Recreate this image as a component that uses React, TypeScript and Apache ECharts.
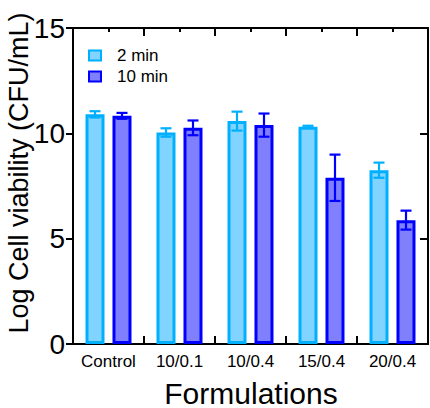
import React, { useEffect, useRef } from "react";
import * as echarts from "echarts";

const categories = ["Control", "10/0.1", "10/0.4", "15/0.4", "20/0.4"];
const seriesNames = ["2 min", "10 min"];
const mean2 = [10.9, 10.04, 10.58, 10.31, 8.25];
const sd2 = [0.15, 0.2, 0.45, 0.05, 0.36];
const mean10 = [10.83, 10.26, 10.39, 7.89, 5.88];
const sd10 = [0.14, 0.35, 0.55, 1.1, 0.45];
const yTicks = [0, 5, 10, 15];

const FONT = "Liberation Sans, Arial, Helvetica, sans-serif";
const C2_FILL = "#80D4FF";
const C2_LINE = "#00B0FF";
const C10_FILL = "#8080FF";
const C10_LINE = "#0000FF";

function errorSeries(name: string, means: number[], sds: number[], offsetFrac: number, color: string) {
  return {
    type: "custom",
    name,
    xAxisIndex: 0,
    yAxisIndex: 0,
    z: 5,
    encode: { x: 0, y: 1 },
    data: means.map((m, i) => [i, m, sds[i]]),
    renderItem: (params: any, api: any) => {
      const idx = api.value(0);
      const m = api.value(1);
      const s = api.value(2);
      const band = api.size([1, 0])[0];
      const c = api.coord([idx, m]);
      const x = c[0] + offsetFrac * band;
      const yt = api.coord([idx, m + s])[1];
      const yb = api.coord([idx, m - s])[1];
      const hw = 5.5;
      const st = { stroke: color, lineWidth: 2.2, fill: null };
      return {
        type: "group",
        children: [
          { type: "line", shape: { x1: x, y1: yt, x2: x, y2: yb }, style: st },
          { type: "line", shape: { x1: x - hw, y1: yt, x2: x + hw, y2: yt }, style: st },
          { type: "line", shape: { x1: x - hw, y1: yb, x2: x + hw, y2: yb }, style: st },
        ],
      };
    },
  };
}

export default function App() {
  const ref = useRef<HTMLDivElement>(null);
  useEffect(() => {
    if (!ref.current) return;
    const chart = echarts.init(ref.current, null, { renderer: "svg" });
    const axisLine = { show: true, onZero: false, lineStyle: { color: "#000", width: 2 } };
    chart.setOption({
      animation: false,
      textStyle: { fontFamily: FONT },
      grid: { left: 73, top: 28, width: 355, height: 316, containLabel: false },
      legend: {
        data: seriesNames,
        orient: "vertical",
        left: 88,
        top: 47,
        padding: 0,
        itemWidth: 12,
        itemHeight: 10,
        itemGap: 4,
        icon: "rect",
        itemStyle: { borderWidth: 2 },
        textStyle: { fontFamily: FONT, fontSize: 17, color: "#000", padding: [0, 0, 0, 11] },
      },
      xAxis: [
        {
          type: "category",
          data: categories,
          position: "bottom",
          boundaryGap: true,
          axisLine,
          axisTick: { show: true, inside: true, length: 8, alignWithLabel: false, interval: 0, lineStyle: { width: 2, color: "#000" } },
          axisLabel: { fontFamily: FONT, fontSize: 17, color: "#000", margin: 9, interval: 0 },
          splitLine: { show: false },
        },
        {
          type: "value",
          position: "top",
          min: 0,
          max: 5,
          interval: 1,
          axisLine,
          axisTick: { show: true, inside: true, length: 8, lineStyle: { width: 2, color: "#000" } },
          minorTick: { show: true, splitNumber: 2, length: 4, lineStyle: { width: 2, color: "#000" } },
          axisLabel: { show: false },
          splitLine: { show: false },
        },
      ],
      yAxis: [
        {
          type: "value",
          min: 0,
          max: 15,
          interval: 5,
          position: "left",
          axisLine,
          axisTick: { show: true, inside: false, length: 7, lineStyle: { width: 2, color: "#000" } },
          axisLabel: {
            fontFamily: FONT,
            fontSize: 28,
            color: "#000",
            margin: 8,
            formatter: (v: number) => (yTicks.includes(v) ? String(v) : ""),
          },
          splitLine: { show: false },
        },
        {
          type: "value",
          min: 0,
          max: 15,
          interval: 5,
          position: "right",
          axisLine,
          axisTick: { show: true, inside: true, length: 8, lineStyle: { width: 2, color: "#000" } },
          axisLabel: { show: false },
          splitLine: { show: false },
        },
      ],
      series: [
        {
          type: "bar",
          name: seriesNames[0],
          data: mean2,
          barWidth: 19,
          barGap: "42%",
          itemStyle: { color: C2_FILL, borderColor: C2_LINE, borderWidth: 3 },
        },
        {
          type: "bar",
          name: seriesNames[1],
          data: mean10,
          barWidth: 19,
          barGap: "42%",
          itemStyle: { color: C10_FILL, borderColor: C10_LINE, borderWidth: 3 },
        },
        errorSeries("err2", mean2, sd2, -13.5 / 71, C2_LINE),
        errorSeries("err10", mean10, sd10, 13.5 / 71, C10_LINE),
      ],
      graphic: [
        {
          type: "text",
          x: 19,
          y: 173,
          rotation: Math.PI / 2,
          style: {
            text: "Log Cell viability (CFU/mL)",
            fontFamily: FONT,
            fontSize: 27,
            fill: "#000",
            align: "center",
            verticalAlign: "middle",
          },
        },
        {
          type: "text",
          x: 251,
          y: 393,
          style: {
            text: "Formulations",
            fontFamily: FONT,
            fontSize: 30,
            fill: "#000",
            align: "center",
            verticalAlign: "middle",
          },
        },
      ],
    });
    return () => chart.dispose();
  }, []);
  return <div ref={ref} style={{ width: 430, height: 408, position: "absolute", left: 0, top: 0 }} />;
}
